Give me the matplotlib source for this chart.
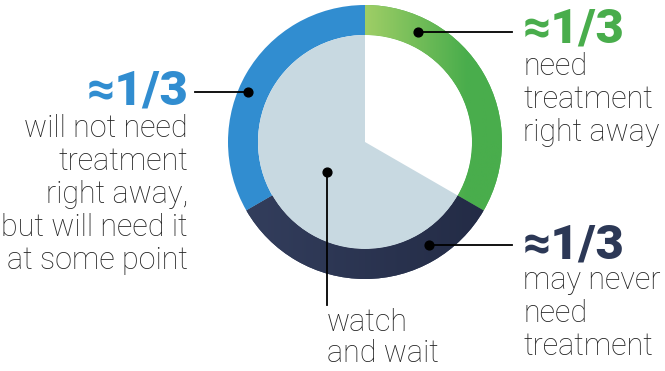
import numpy as np
import matplotlib
matplotlib.use("Agg")
import matplotlib.pyplot as plt
from matplotlib.colors import LinearSegmentedColormap

# data
ring_labels = ["need treatment right away", "may never need treatment",
               "will not need treatment right away"]
ring_shares = [1, 1, 1]
inner_labels = ["", "watch and wait"]
inner_shares = [1, 2]
frac_text = "\u22481/3"

green = "#49ad4c"
green_light = "#9fce66"
navy = "#2c3856"
navy_dark = "#222a44"
blue = "#318dd0"
grey = "#c8d9e1"
txt = "#222222"

W, H = 665, 371
fig = plt.figure(figsize=(W / 100, H / 100), dpi=100)

# donut axes: center (365,142), radius 137 px
cx, cy, R = 365, 142, 137
ax = fig.add_axes([(cx - R) / W, (H - cy - R) / H, 2 * R / W, 2 * R / H])
wedges, _ = ax.pie(ring_shares, radius=1, startangle=90, counterclock=False,
                   colors=[green, navy, blue],
                   wedgeprops=dict(width=30 / R, linewidth=0))
ax.pie(inner_shares, radius=107 / R, startangle=90, counterclock=False,
       colors=["white", grey], wedgeprops=dict(linewidth=0))

# gradients on green and navy segments
gcmap = LinearSegmentedColormap.from_list("g", [green_light, green], N=256)
g = np.clip(np.linspace(-1, 1, 256) / 0.75, 0, 1)[None, :]
im = ax.imshow(g, extent=[-1, 1, -1, 1], cmap=gcmap, aspect="auto", zorder=3)
im.set_clip_path(wedges[0])
ncmap = LinearSegmentedColormap.from_list("n", ["#343f5e", navy_dark], N=256)
n = np.linspace(0, 1, 256)[None, :]
im2 = ax.imshow(n, extent=[-1, 1, -1, 1], cmap=ncmap, aspect="auto", zorder=3)
im2.set_clip_path(wedges[1])
ax.set_xlim(-1, 1)
ax.set_ylim(-1, 1)
ax.set_aspect("equal")
ax.axis("off")

# overlay in pixel coordinates
ov = fig.add_axes([0, 0, 1, 1])
ov.set_xlim(0, W)
ov.set_ylim(H, 0)
ov.axis("off")
ov.patch.set_alpha(0)

lw = 1.3
ov.plot([418, 512], [32, 32], color="black", lw=lw)
ov.plot([195, 248], [92, 92], color="black", lw=lw)
ov.plot([429, 512], [245, 245], color="black", lw=lw)
ov.plot([327, 327], [172, 305], color="black", lw=lw)
ov.scatter([418, 248, 429, 327], [32, 92, 245, 172], s=40, color="black", zorder=5)

bold = dict(family="Roboto", fontweight="black", fontsize=35)
light = dict(family="Roboto", fontweight="light", fontsize=22, color=txt,
             linespacing=1.17)

ov.text(523, 52, "\n".join(["need", "treatment", "right away"]),
        ha="left", va="top", **light)
ov.text(523, 43, frac_text, color=green, ha="left", va="baseline", **bold)

ov.text(523, 258, frac_text, color=navy, ha="left", va="baseline", **bold)
ov.text(523, 266, "may never\nneed\ntreatment", ha="left", va="top", **light)

ov.text(188, 105, frac_text, color=blue, ha="right", va="baseline", **bold)
ov.text(188, 114, "will not need\ntreatment\nright away,\nbut will need it\nat some point",
        ha="right", va="top", multialignment="right", **light)

ov.text(327, 362, "watch\nand wait", ha="left", va="baseline",
        **{**light, "linespacing": 1.1})

fig.savefig("out.png", dpi=100)
